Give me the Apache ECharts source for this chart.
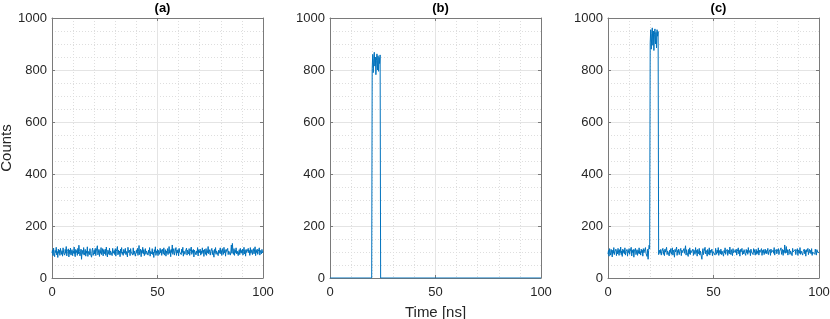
<!DOCTYPE html>
<html><head><meta charset="utf-8">
<script src="https://cdn.jsdelivr.net/npm/echarts@6/dist/echarts.min.js"></script>
<style>html,body{margin:0;padding:0;background:#fff}#c{width:830px;height:319px}</style>
</head><body><div id="c"></div><script>
const panelTitles = ['(a)', '(b)', '(c)'];
const xLabelName = 'Time [ns]';
const yLabelName = 'Counts';
const xRange = [0, 100];
const yRange = [0, 1000];
const timeStep = 0.25; // ns between samples of countsA / countsC

const countsA = [
96,108,86,115,93,82,106,98,118,89,102,79,111,95,107,87,114,100,91,105,
84,116,97,104,88,110,95,121,85,102,98,112,81,107,93,115,88,100,109,86,
104,95,119,90,82,110,98,106,87,114,93,126,102,85,97,111,72,107,100,91,
117,88,98,110,84,104,95,120,83,102,108,90,113,93,100,80,106,115,87,98,
107,92,114,86,104,97,124,89,100,110,83,106,95,117,90,98,113,85,109,102,
93,111,87,119,98,81,107,102,91,115,88,104,97,110,86,114,95,100,106,90,
113,84,102,98,121,89,107,93,104,82,111,96,117,91,100,87,110,106,95,114,
90,102,108,81,118,98,93,107,86,113,100,95,106,88,116,91,104,110,84,98,
107,95,114,87,102,125,90,100,111,82,106,97,118,93,109,86,100,113,91,104,
98,110,88,107,95,117,84,102,106,93,113,90,100,79,109,98,120,87,104,95,
110,86,106,100,91,114,97,107,87,111,102,93,116,88,98,109,84,104,95,113,
90,102,121,95,106,82,110,98,127,91,104,113,88,100,95,117,87,107,97,109,
85,114,100,93,106,90,111,98,118,84,104,109,91,102,97,115,88,107,100,93,
113,87,102,95,119,91,106,98,110,81,107,100,114,89,104,95,117,85,109,97,
100,111,88,104,93,116,98,107,83,110,102,91,113,87,106,97,121,93,100,109,
88,102,95,114,90,106,100,80,110,97,117,91,104,98,111,86,107,95,102,116,
93,106,87,113,100,91,118,97,107,84,110,102,95,114,90,104,98,109,88,100,
127,95,133,102,91,113,87,107,98,116,93,104,110,86,100,109,90,114,97,106,
95,111,88,102,118,93,107,84,110,98,104,91,114,97,106,87,117,95,100,109,
90,104,113,93,100,120,86,107,98,111,91,102,95,116,88,106,100,93,110,97,
102];

const timesB = [0, 19.75, 20, 20.25, 20.5, 20.75, 21, 21.25, 21.5, 21.75, 22, 22.25, 22.5, 22.75, 23, 23.25, 23.5, 23.75, 24, 100];
const countsB = [0, 0, 805, 860, 790, 845, 868, 815, 850, 782, 838, 862, 800, 855, 795, 848, 825, 858, 0, 0];

const countsC = [
92,106,84,113,98,88,110,100,81,107,95,117,90,102,97,111,86,106,93,114,
100,87,109,97,119,90,104,83,111,98,107,93,116,88,102,95,110,84,106,98,
113,91,102,95,118,85,107,98,110,80,104,97,114,90,100,109,87,106,95,116,
93,102,88,111,98,107,84,113,97,104,91,117,95,100,83,110,72,106,126,112,
905,955,880,940,962,895,950,875,935,958,900,945,885,955,930,948,90,84,107,95,
110,88,102,98,114,91,106,86,111,100,95,118,90,104,97,109,85,107,98,113,
91,102,116,88,107,97,80,110,100,93,119,87,106,98,111,90,102,95,114,86,
107,98,104,91,113,95,100,124,88,109,97,102,83,110,93,116,90,106,98,104,
95,111,87,107,100,91,117,97,106,84,110,102,93,114,88,104,98,109,72,100,
113,90,102,95,118,93,106,98,84,110,100,91,116,88,107,97,104,111,86,102,
95,109,98,88,114,102,91,107,97,117,87,106,100,93,111,90,104,98,110,84,
106,97,116,91,102,95,110,87,107,100,93,119,98,90,109,102,86,113,97,104,
91,107,98,111,88,102,95,116,93,106,84,110,100,97,114,90,104,93,109,98,
102,87,110,97,107,91,117,98,95,106,86,111,100,93,104,90,113,98,109,88,
100,110,91,104,95,116,88,107,98,102,93,113,87,106,97,109,90,100,111,95,
106,93,102,114,90,100,97,109,87,111,98,104,91,107,95,117,88,102,98,110,
93,104,97,113,90,102,106,95,116,91,100,110,87,107,98,127,95,106,121,97,
109,88,102,98,111,91,104,97,107,86,114,100,93,106,95,110,90,102,98,113,
87,107,100,95,117,91,104,98,110,88,102,97,111,93,106,84,109,100,95,114,
90,102,110,97,106,93,113,87,100,107,95,104,91,111,98,88,109,102,97,93,
100];

const seriesData = [
  countsA.map((v, i) => [i * timeStep, v]),
  timesB.map((t, i) => [t, countsB[i]]),
  countsC.map((v, i) => [i * timeStep, v])
];

const gridLefts = [52, 330, 608];
const plotW = 211, plotTop = 18, plotH = 260;
const axisColor = '#7a7a7a';
const textColor = '#262626';
const font = 'Liberation Sans, Arial, Helvetica, sans-serif';

const grids = [], xAxes = [], yAxes = [], series = [], titles = [];
for (let i = 0; i < 3; i++) {
  grids.push({left: gridLefts[i], top: plotTop, width: plotW, height: plotH, containLabel: false, outerBoundsMode: 'none'});
  titles.push({text: panelTitles[i], left: gridLefts[i] + plotW / 2, top: -3, textAlign: 'center',
    textStyle: {fontFamily: font, fontSize: 13, fontWeight: 'bold', color: '#000'}});
  const common = {min: xRange[0], max: xRange[1], interval: 50, gridIndex: i, type: 'value'};
  xAxes.push(Object.assign({}, common, {
    position: 'bottom',
    name: i === 1 ? xLabelName : '', nameLocation: 'middle', nameGap: 27,
    nameTextStyle: {fontFamily: font, fontSize: 15, color: textColor},
    axisLine: {show: true, onZero: false, lineStyle: {color: axisColor, width: 1}},
    axisTick: {show: true, inside: true, length: 3, lineStyle: {color: axisColor}},
    axisLabel: {fontFamily: font, fontSize: 13, color: textColor, margin: 8, formatter: v => String(v)},
    splitLine: {show: true, lineStyle: {color: '#e4e4e4', width: 1}},
    minorTick: {show: false, splitNumber: 5},
    minorSplitLine: {show: true, lineStyle: {color: '#dedede', width: 1, type: [1, 2]}}
  }));
  xAxes.push(Object.assign({}, common, {
    position: 'top',
    axisLine: {show: true, onZero: false, lineStyle: {color: axisColor, width: 1}},
    axisTick: {show: true, inside: true, length: 3, lineStyle: {color: axisColor}},
    axisLabel: {show: false}, splitLine: {show: false}
  }));
  const ycommon = {min: yRange[0], max: yRange[1], interval: 200, gridIndex: i, type: 'value'};
  yAxes.push(Object.assign({}, ycommon, {
    position: 'left',
    name: i === 0 ? yLabelName : '', nameLocation: 'middle', nameGap: 38, nameRotate: 90,
    nameTextStyle: {fontFamily: font, fontSize: 15, color: textColor},
    axisLine: {show: true, onZero: false, lineStyle: {color: axisColor, width: 1}},
    axisTick: {show: true, inside: true, length: 3, lineStyle: {color: axisColor}},
    axisLabel: {fontFamily: font, fontSize: 13, color: textColor, margin: 5, formatter: v => String(v)},
    splitLine: {show: true, lineStyle: {color: '#e4e4e4', width: 1}},
    minorTick: {show: false, splitNumber: 4},
    minorSplitLine: {show: true, lineStyle: {color: '#dedede', width: 1, type: [1, 2]}}
  }));
  yAxes.push(Object.assign({}, ycommon, {
    position: 'right',
    axisLine: {show: true, onZero: false, lineStyle: {color: axisColor, width: 1}},
    axisTick: {show: true, inside: true, length: 3, lineStyle: {color: axisColor}},
    axisLabel: {show: false}, splitLine: {show: false}
  }));
  series.push({
    type: 'line', xAxisIndex: 2 * i, yAxisIndex: 2 * i, data: seriesData[i],
    showSymbol: false, symbol: 'none', lineStyle: {color: '#0072BD', width: 1},
    itemStyle: {color: '#0072BD'}, animation: false, silent: true, clip: true, sampling: null
  });
}

const chart = echarts.init(document.getElementById('c'), null, {renderer: 'canvas'});
chart.setOption({
  backgroundColor: '#fff',
  animation: false,
  title: titles,
  grid: grids,
  xAxis: xAxes,
  yAxis: yAxes,
  series: series
});
</script></body></html>
